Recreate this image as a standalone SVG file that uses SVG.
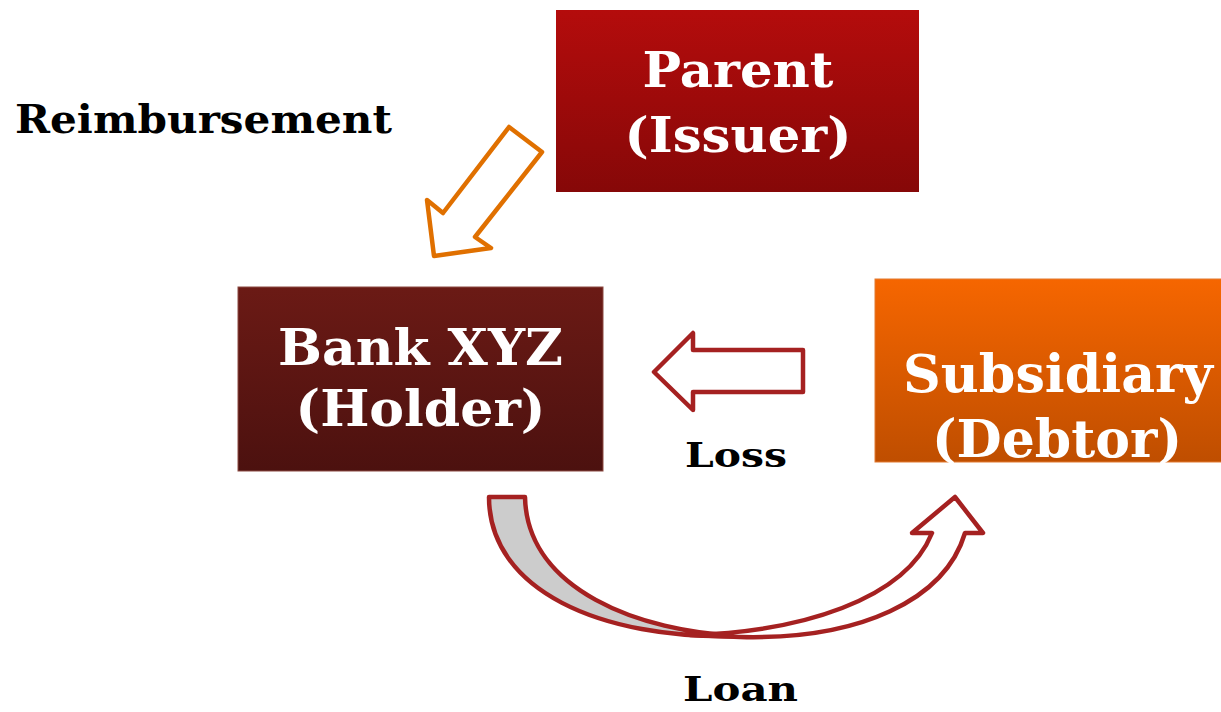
<svg xmlns="http://www.w3.org/2000/svg" width="1221" height="712" viewBox="0 0 1221 712">
<defs>
<linearGradient id="gParent" x1="0" y1="0" x2="0" y2="1"><stop offset="0" stop-color="#b40c0c"/><stop offset="1" stop-color="#860808"/></linearGradient>
<linearGradient id="gBank" x1="0" y1="0" x2="0" y2="1"><stop offset="0" stop-color="#6b1a15"/><stop offset="1" stop-color="#4c110f"/></linearGradient>
<linearGradient id="gSub" x1="0" y1="0" x2="0" y2="1"><stop offset="0" stop-color="#f66600"/><stop offset="1" stop-color="#bf4e00"/></linearGradient>
<style>
.t{font-family:"DejaVu Serif","Liberation Serif",serif;font-weight:bold;}
.w{fill:#ffffff;}
.k{fill:#000000;}
.ar{fill:#ffffff;stroke:#a52121;stroke-width:4.5;stroke-linejoin:round;}
</style>
</defs>
<rect width="1221" height="712" fill="#ffffff"/>
<g id="connectors">
<path d="M434,256 L427,200 L443,213 L509,127 L542,152 L475,237 L491,248 Z" fill="#ffffff" stroke="#e07000" stroke-width="4.5" stroke-linejoin="round"/>
<path d="M654,372 L693,333 L693,350 L803,350 L803,392 L693,392 L693,410 Z" class="ar"/>
<path d="M489,497 L525,497 C527,590 640,632 740,636 C600,640 489,590 489,497 Z" fill="#cccccc" stroke="#a52121" stroke-width="4.5" stroke-linejoin="round"/>
<path d="M690,635 C800,632 905,600 932,533 L912,533 L955,497 L983,533 L965,533 C945,600 860,640 740,637 Z" class="ar"/>
</g>
<g id="parent">
<rect x="556" y="10" width="363" height="182" fill="url(#gParent)"/>
<text class="t w" x="738" y="87" font-size="48" text-anchor="middle" textLength="191" lengthAdjust="spacingAndGlyphs">Parent</text>
<text class="t w" x="738" y="152" font-size="48" text-anchor="middle" textLength="227" lengthAdjust="spacingAndGlyphs">(Issuer)</text>
</g>
<g id="bank">
<rect x="238" y="287" width="365" height="184" fill="url(#gBank)" stroke="#8c4a42" stroke-width="1"/>
<text class="t w" x="420.5" y="365" font-size="50" text-anchor="middle" textLength="285" lengthAdjust="spacingAndGlyphs">Bank XYZ</text>
<text class="t w" x="420.5" y="426" font-size="50" text-anchor="middle" textLength="250" lengthAdjust="spacingAndGlyphs">(Holder)</text>
</g>
<g id="subsidiary">
<rect x="875" y="279" width="360" height="183" fill="url(#gSub)" stroke="#e27a30" stroke-width="1"/>
<text class="t w" x="1058" y="392" font-size="52" text-anchor="middle" textLength="310" lengthAdjust="spacingAndGlyphs">Subsidiary</text>
<text class="t w" x="1057" y="457" font-size="52" text-anchor="middle" textLength="250" lengthAdjust="spacingAndGlyphs">(Debtor)</text>
</g>
<g id="labels">
<text class="t k" x="15" y="133" font-size="40" textLength="377" lengthAdjust="spacingAndGlyphs">Reimbursement</text>
<text class="t k" x="685" y="467" font-size="34" textLength="102" lengthAdjust="spacingAndGlyphs">Loss</text>
<text class="t k" x="683" y="701" font-size="33" textLength="115" lengthAdjust="spacingAndGlyphs">Loan</text>
</g>
</svg>
